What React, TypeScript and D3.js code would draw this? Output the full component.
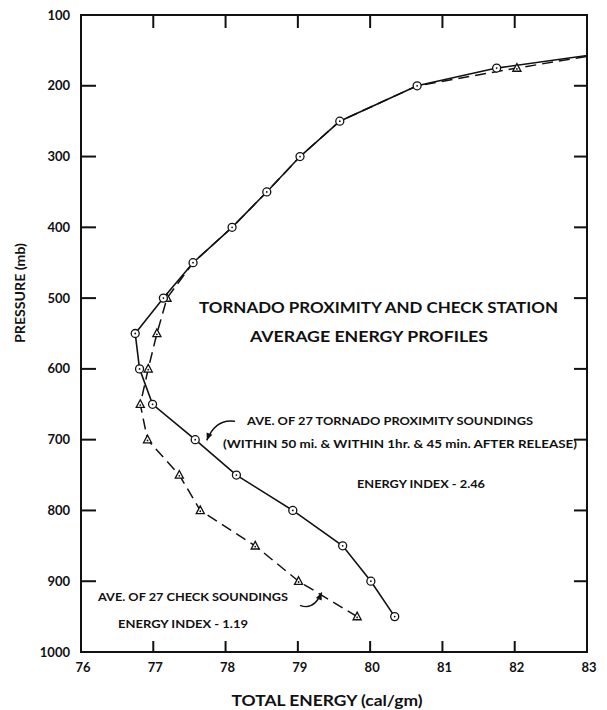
import React from 'react';
import * as d3 from 'd3';

// ---- Data ----
const pressures = [950, 900, 850, 800, 750, 700, 650, 600, 550, 500, 450, 400, 350, 300, 250, 200, 175, 150];
const tornadoEnergy = [80.34, 80.01, 79.62, 78.93, 78.15, 77.58, 76.99, 76.81, 76.75, 77.14, 77.55, 78.09, 78.57, 79.03, 79.58, 80.65, 81.75, 83.5];
const checkEnergy = [79.82, 79.01, 78.41, 77.65, 77.36, 76.92, 76.82, 76.93, 77.05, 77.19, 77.55, 78.09, 78.57, 79.03, 79.58, 80.65, 82.03, 83.5];
const xTicks = [76, 77, 78, 79, 80, 81, 82, 83];
const yTicks = [100, 200, 300, 400, 500, 600, 700, 800, 900, 1000];

const W = 607;
const H = 710;
const left = 81, right = 587, top = 15, bottom = 652;
const FONT = 'Lato, "DejaVu Sans", sans-serif';

type Pt = { p: number; e: number };

export default function App() {
  const x = d3.scaleLinear().domain([76, 83]).range([left, right]);
  const y = d3.scaleLinear().domain([100, 1000]).range([top, bottom]);

  const tornado: Pt[] = pressures.map((p, i) => ({ p, e: tornadoEnergy[i] }));
  const check: Pt[] = pressures.map((p, i) => ({ p, e: checkEnergy[i] }));

  const line = d3.line<Pt>().x(d => x(d.e)).y(d => y(d.p));
  const inDomain = (d: Pt) => d.e >= 76 && d.e <= 83 && d.p >= 100 && d.p <= 1000;

  const checkMarked = check.filter((d, i) => inDomain(d) && Math.abs(d.e - tornado[i].e) > 0.001);
  const tornadoMarked = tornado.filter(inDomain);

  const tri = (cx: number, cy: number, s: number) =>
    `M${cx},${cy - s} L${cx + s * 0.9},${cy + s * 0.7} L${cx - s * 0.9},${cy + s * 0.7} Z`;

  // annotation arrows in data units
  const arrowPath = (a: [number, number], c: [number, number], b: [number, number]) => {
    const p = d3.path();
    p.moveTo(x(a[0]), y(a[1]));
    p.quadraticCurveTo(x(c[0]), y(c[1]), x(b[0]), y(b[1]));
    return p.toString();
  };
  const arrowHead = (c: [number, number], b: [number, number], size: number) => {
    const bx = x(b[0]), by = y(b[1]);
    const cx = x(c[0]), cy = y(c[1]);
    const ang = Math.atan2(by - cy, bx - cx);
    const a1 = ang + Math.PI - 0.4, a2 = ang + Math.PI + 0.4;
    return `M${bx},${by} L${bx + size * Math.cos(a1)},${by + size * Math.sin(a1)} L${bx + size * Math.cos(a2)},${by + size * Math.sin(a2)} Z`;
  };
  const tA: [number, number] = [78.13, 674];
  const tC: [number, number] = [77.86, 670];
  const tB: [number, number] = [77.74, 701];
  const cA: [number, number] = [79.03, 934];
  const cC: [number, number] = [79.22, 942];
  const cB: [number, number] = [79.33, 916];

  return (
    <svg width={W} height={H} style={{ position: 'absolute', left: 0, top: 0, background: '#fff' }}
      fontFamily={FONT}>
      <defs>
        <clipPath id="plot">
          <rect x={left} y={top} width={right - left} height={bottom - top} />
        </clipPath>
      </defs>
      <rect x={0} y={0} width={W} height={H} fill="#fff" />

      {/* frame */}
      <rect x={left} y={top} width={right - left} height={bottom - top} fill="none" stroke="#111" strokeWidth={2} />

      {/* ticks */}
      {xTicks.slice(1, -1).map(t => (
        <g key={'xt' + t}>
          <line x1={x(t)} x2={x(t)} y1={bottom} y2={bottom - 11} stroke="#111" strokeWidth={2} />
          <line x1={x(t)} x2={x(t)} y1={top} y2={top + 13} stroke="#111" strokeWidth={2} />
        </g>
      ))}
      {yTicks.slice(1, -1).map(t => (
        <g key={'yt' + t}>
          <line x1={left} x2={left + 15} y1={y(t)} y2={y(t)} stroke="#111" strokeWidth={2} />
          <line x1={right} x2={right - 13} y1={y(t)} y2={y(t)} stroke="#111" strokeWidth={2} />
        </g>
      ))}

      {/* tick labels */}
      {xTicks.map(t => (
        <text key={'xl' + t} x={x(t) + 2} y={672} textAnchor="middle" fontSize={13} fontWeight={700} fill="#111">{t}</text>
      ))}
      {yTicks.map(t => (
        <text key={'yl' + t} x={left - 11} y={y(t)} dy="0.35em" textAnchor="end" fontSize={13} fontWeight={700} fill="#111">{t}</text>
      ))}

      {/* axis titles */}
      <text x={327} y={706} textAnchor="middle" fontSize={16} fontWeight={700} fill="#111" textLength={191} lengthAdjust="spacingAndGlyphs">TOTAL ENERGY (cal/gm)</text>
      <text transform="translate(25,293) rotate(-90)" textAnchor="middle" fontSize={14} fontWeight={700} fill="#111" textLength={100} lengthAdjust="spacingAndGlyphs">PRESSURE (mb)</text>

      {/* series lines */}
      <g clipPath="url(#plot)">
        <path d={line(check) || ''} fill="none" stroke="#111" strokeWidth={1.5} strokeDasharray="11,6" />
        <path d={line(tornado) || ''} fill="none" stroke="#111" strokeWidth={1.6} />
      </g>

      {/* markers */}
      {checkMarked.map(d => (
        <g key={'cm' + d.p}>
          <path d={tri(x(d.e), y(d.p), 4.5)} fill="#fff" stroke="#111" strokeWidth={1.3} />
          <circle cx={x(d.e)} cy={y(d.p) + 0.8} r={0.9} fill="#111" />
        </g>
      ))}
      {tornadoMarked.map(d => (
        <g key={'tm' + d.p}>
          <circle cx={x(d.e)} cy={y(d.p)} r={4} fill="#fff" stroke="#111" strokeWidth={1.3} />
          <circle cx={x(d.e)} cy={y(d.p)} r={0.9} fill="#111" />
        </g>
      ))}

      {/* arrows */}
      <path d={arrowPath(tA, tC, tB)} fill="none" stroke="#111" strokeWidth={1.4} />
      <path d={arrowHead(tC, tB, 8)} fill="#111" />
      <path d={arrowPath(cA, cC, cB)} fill="none" stroke="#111" strokeWidth={1.4} />
      <path d={arrowHead(cC, cB, 8)} fill="#111" />

      {/* annotations */}
      <g fill="#111" fontWeight={700}>
        <text x={199} y={313} fontSize={16} textLength={359} lengthAdjust="spacingAndGlyphs">TORNADO PROXIMITY AND CHECK STATION</text>
        <text x={250} y={342} fontSize={16} textLength={238} lengthAdjust="spacingAndGlyphs">AVERAGE ENERGY  PROFILES</text>
        <text x={247} y={425} fontSize={11.5} textLength={286} lengthAdjust="spacingAndGlyphs">AVE. OF 27 TORNADO PROXIMITY SOUNDINGS</text>
        <text x={223} y={448} fontSize={11.5} textLength={354} lengthAdjust="spacingAndGlyphs">(WITHIN 50 mi. &amp; WITHIN 1hr. &amp; 45 min. AFTER RELEASE)</text>
        <text x={357} y={488} fontSize={11.5} textLength={128} lengthAdjust="spacingAndGlyphs">ENERGY INDEX - 2.46</text>
        <text x={98} y={601} fontSize={11.5} textLength={190} lengthAdjust="spacingAndGlyphs">AVE. OF 27 CHECK SOUNDINGS</text>
        <text x={118} y={628} fontSize={11.5} textLength={130} lengthAdjust="spacingAndGlyphs">ENERGY INDEX  - 1.19</text>
      </g>
    </svg>
  );
}
